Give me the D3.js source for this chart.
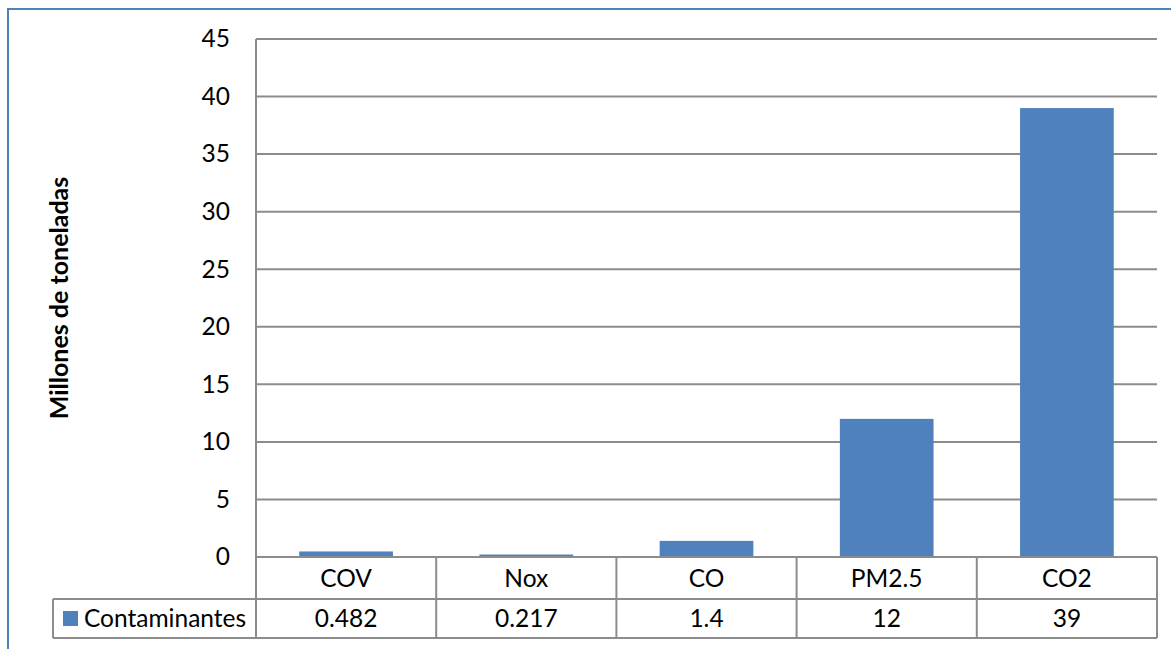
<!DOCTYPE html>
<html>
<head>
<meta charset="utf-8">
<script src="https://cdn.jsdelivr.net/npm/d3@7"></script>
<style>
	body { margin: 0; background: #fff; }
	svg text { font-family: Lato, "Open Sans", sans-serif; fill: #000; }
</style>
</head>
<body>
<svg id="chart"></svg>
<script>
// Data
const categories = ["COV", "Nox", "CO", "PM2.5", "CO2"];
const values = [0.482, 0.217, 1.4, 12, 39];
const valueLabels = ["0.482", "0.217", "1.4", "12", "39"];
const seriesName = "Contaminantes";
const yTicks = [0, 5, 10, 15, 20, 25, 30, 35, 40, 45];

// SVG and dimensions
const width = 1171;
const height = 649;
const svg = d3.select("#chart").attr("width", width).attr("height", height);

const plot = { left: 256, right: 1157, top: 39, bottom: 557 };
const row1 = 599; // bottom of category row
const row2 = 638; // bottom of value row
const legendLeft = 53;
const gridColor = "#8c8c8c";
const barColor = "#4f81bd";
const fontSize = "24.5px";

// Chart border
svg.append("rect")
	.attr("x", 8).attr("y", 9)
	.attr("width", width + 20).attr("height", height + 20)
	.attr("fill", "#fff")
	.attr("stroke", barColor)
	.attr("stroke-width", 2);

// Scales
const x = d3.scaleBand().domain(categories).range([plot.left, plot.right]).paddingInner(0.48).paddingOuter(0.24);
const xCol = d3.scaleBand().domain(categories).range([plot.left, plot.right]);
const y = d3.scaleLinear().domain([0, 45]).range([plot.bottom, plot.top]);

// Gridlines
svg.append("g")
	.selectAll("line")
	.data(yTicks.filter((d) => d > 0))
	.enter()
	.append("line")
	.attr("x1", plot.left).attr("x2", plot.right)
	.attr("y1", (d) => y(d)).attr("y2", (d) => y(d))
	.attr("stroke", gridColor)
	.attr("stroke-width", 2);

// Y axis labels
const yAxis = svg.append("g")
	.attr("transform", `translate(${plot.left},0)`)
	.call(d3.axisLeft(y).tickValues(yTicks).tickSize(0).tickPadding(26));
yAxis.select(".domain").remove();
yAxis.selectAll("text").attr("font-size", fontSize).style("font-family", "Lato, sans-serif").attr("fill", "#000");

// Bars
svg.append("g")
	.selectAll("rect")
	.data(values)
	.enter()
	.append("rect")
	.attr("x", (d, i) => x(categories[i]))
	.attr("width", x.bandwidth())
	.attr("y", (d) => y(d))
	.attr("height", (d) => y(0) - y(d))
	.attr("fill", barColor);

// Y axis line
svg.append("line")
	.attr("x1", plot.left).attr("x2", plot.left)
	.attr("y1", plot.top).attr("y2", row2)
	.attr("stroke", gridColor).attr("stroke-width", 2);

// Data table lines
const table = svg.append("g").attr("stroke", gridColor).attr("stroke-width", 2);
table.append("line").attr("x1", plot.left).attr("x2", plot.right).attr("y1", plot.bottom).attr("y2", plot.bottom);
table.append("line").attr("x1", legendLeft).attr("x2", plot.right).attr("y1", row1).attr("y2", row1);
table.append("line").attr("x1", legendLeft).attr("x2", plot.right).attr("y1", row2).attr("y2", row2);
table.append("line").attr("x1", legendLeft).attr("x2", legendLeft).attr("y1", row1).attr("y2", row2);
table.selectAll(".col")
	.data(categories)
	.enter()
	.append("line")
	.attr("class", "col")
	.attr("x1", (d) => xCol(d) + xCol.bandwidth())
	.attr("x2", (d) => xCol(d) + xCol.bandwidth())
	.attr("y1", plot.bottom).attr("y2", row2);

// Category labels
svg.append("g")
	.selectAll("text")
	.data(categories)
	.enter()
	.append("text")
	.attr("x", (d) => xCol(d) + xCol.bandwidth() / 2)
	.attr("y", (plot.bottom + row1) / 2)
	.attr("dy", "0.35em")
	.attr("text-anchor", "middle")
	.attr("font-size", fontSize)
	.text((d) => d);

// Value labels
svg.append("g")
	.selectAll("text")
	.data(valueLabels)
	.enter()
	.append("text")
	.attr("x", (d, i) => xCol(categories[i]) + xCol.bandwidth() / 2)
	.attr("y", (row1 + row2) / 2)
	.attr("dy", "0.35em")
	.attr("text-anchor", "middle")
	.attr("font-size", fontSize)
	.text((d) => d);

// Legend key in table
svg.append("rect")
	.attr("x", 63).attr("y", 611)
	.attr("width", 15).attr("height", 15)
	.attr("fill", barColor);
svg.append("text")
	.attr("x", 84)
	.attr("y", (row1 + row2) / 2)
	.attr("dy", "0.35em")
	.attr("font-size", fontSize)
	.text(seriesName);

// Y axis title
svg.append("text")
	.attr("transform", `translate(68,${(plot.top + plot.bottom) / 2}) rotate(-90)`)
	.attr("text-anchor", "middle")
	.attr("font-size", "25px")
	.attr("font-weight", "bold")
	.text("Millones de toneladas");
</script>
</body>
</html>
